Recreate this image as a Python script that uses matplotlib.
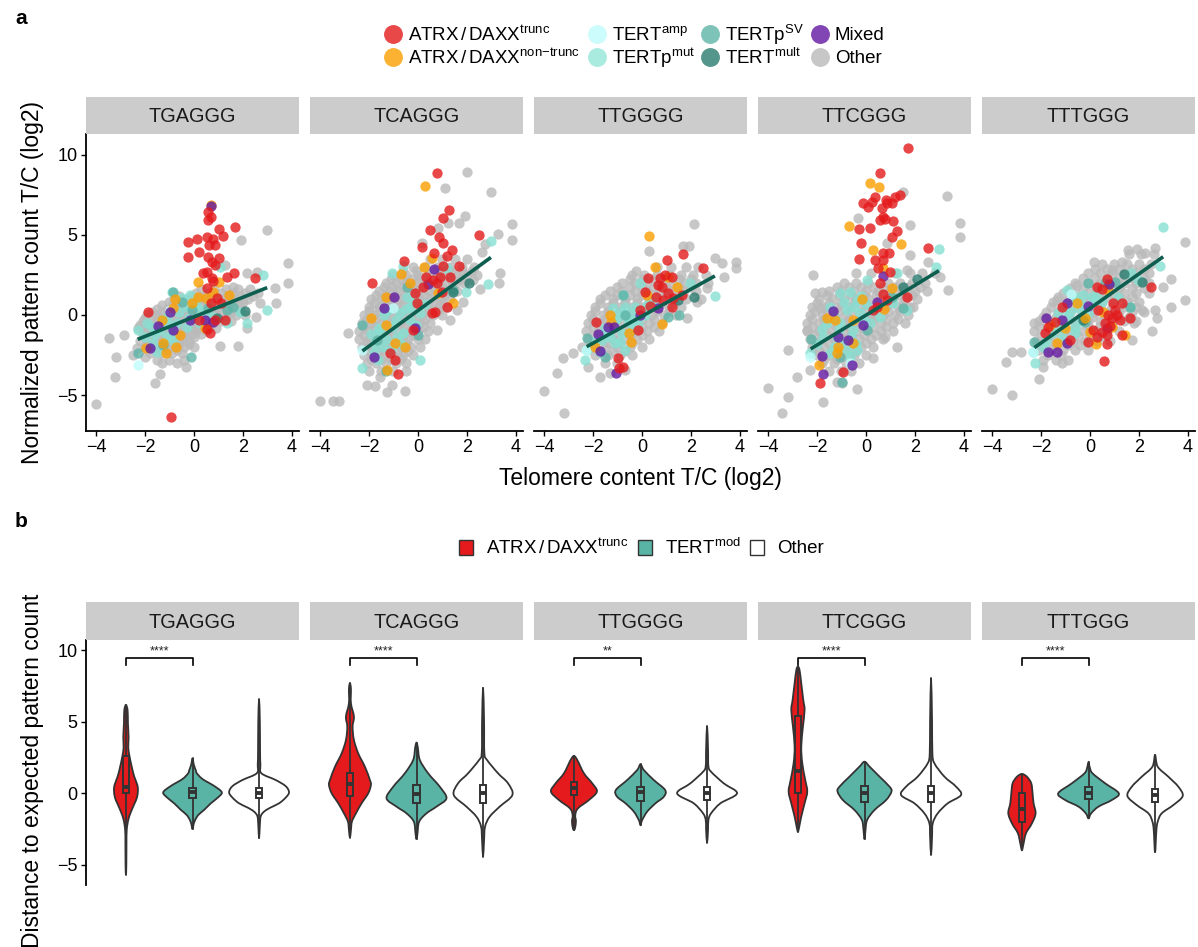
import numpy as np
import matplotlib
matplotlib.use('Agg')
import matplotlib.pyplot as plt
from matplotlib.patches import Rectangle, PathPatch
from matplotlib.path import Path

plt.rcParams['font.family'] = ['Liberation Sans', 'DejaVu Sans']
plt.rcParams['mathtext.fontset'] = 'custom'
plt.rcParams['mathtext.rm'] = 'Liberation Sans'
plt.rcParams['mathtext.it'] = 'Liberation Sans:italic'
plt.rcParams['mathtext.bf'] = 'Liberation Sans:bold'

# ---------------------------------------------------------------- data
patterns = ['TGAGGG', 'TCAGGG', 'TTGGGG', 'TTCGGG', 'TTTGGG']

# dense "Other" cloud, stored as rows: (y, [x values])
other_core = {
    'TGAGGG': [
        (1.6, [0.3, 0.8, 1.3, 1.8, 2.3]),
        (1.4, [0.1, 0.6, 1.1, 1.6, 2.1, 2.6]),
        (1.2, [-0.6, -0.1, 0.4, 0.9, 1.4, 1.9, 2.4]),
        (1.0, [-0.8, -0.3, 0.2, 0.7, 1.2, 1.7, 2.2]),
        (0.8, [-1.0, -0.5, 0.0, 0.5, 1.0, 1.5, 2.0]),
        (0.6, [-1.3, -0.9, -0.5, -0.1, 0.3, 0.7, 1.1, 1.5, 1.9]),
        (0.4, [-1.5, -1.1, -0.7, -0.3, 0.1, 0.5, 0.9, 1.3, 1.7]),
        (0.2, [-1.7, -1.3, -0.9, -0.5, -0.1, 0.3, 0.7, 1.1, 1.5, 1.9]),
        (0.0, [-1.9, -1.5, -1.1, -0.7, -0.3, 0.1, 0.5, 0.9, 1.3, 1.7, 2.1]),
        (-0.2, [-2.0, -1.5, -1.1, -0.7, -0.3, 0.1, 0.5, 0.9, 1.3]),
        (-0.4, [-2.1, -1.7, -1.3, -0.9, -0.5, -0.1, 0.3, 0.7, 1.1, 1.5]),
        (-0.6, [-2.2, -1.7, -1.3, -0.9, -0.5, -0.1, 0.3, 0.7]),
        (-0.8, [-2.3, -1.9, -1.5, -1.1, -0.7, -0.3, 0.1, 0.5, 0.9]),
        (-1.0, [-2.0, -1.5, -1.1, -0.7, -0.3, 0.1, 0.5]),
        (-1.2, [-2.1, -1.7, -1.3, -0.9, -0.5, -0.1, 0.3]),
        (-1.4, [-2.0, -1.6, -1.2, -0.8, -0.4, 0.0]),
        (-1.6, [-2.2, -1.8, -1.4, -1.0, -0.6, -0.2]),
        (-1.8, [-1.9, -1.4, -1.0, -0.6, -0.2]),
        (-2.0, [-2.0, -1.6, -1.2, -0.8, -0.4, 0.0]),
        (-2.2, [-1.6, -1.1, -0.7]),
        (-2.4, [-1.8, -1.3, -0.9, -0.5]),
        (-2.8, [-1.5, -1.0, -0.4]),
    ],
    'TCAGGG': [
        (3.5, [0.5, 1.0, 1.5, 2.0]),
        (3.0, [-0.2, 0.3, 0.8, 1.3, 1.8, 2.3]),
        (2.75, [-0.6, -0.1, 0.6, 1.0, 1.4, 1.8, 2.2]),
        (2.5, [-1.0, -0.5, 0.0, 0.4, 0.8, 1.2, 1.6, 2.0, 2.4]),
        (2.25, [-1.1, -0.7, -0.3, 0.1, 0.5, 0.9, 1.3, 1.7]),
        (2.0, [-1.3, -0.9, -0.5, -0.1, 0.3, 0.7, 1.1, 1.5, 1.9]),
        (1.75, [-1.4, -1.0, -0.6, -0.2, 0.2, 0.6, 1.0, 1.4]),
        (1.5, [-1.6, -1.2, -0.8, -0.4, 0.0, 0.4, 0.8, 1.2, 1.6]),
        (1.25, [-1.7, -1.3, -0.9, -0.5, -0.1, 0.3, 0.7, 1.1]),
        (1.0, [-1.9, -1.5, -1.1, -0.7, -0.3, 0.1, 0.5, 0.9, 1.3]),
        (0.75, [-1.8, -1.4, -1.0, -0.6, -0.2, 0.2, 0.6, 1.0]),
        (0.5, [-2.0, -1.6, -1.2, -0.8, -0.4, 0.0, 0.4, 0.8, 1.2]),
        (0.25, [-2.0, -1.6, -1.2, -0.8, -0.4, 0.0, 0.4, 0.8]),
        (0.0, [-2.2, -1.8, -1.4, -1.0, -0.6, -0.2, 0.2, 0.6, 1.0]),
        (-0.25, [-2.1, -1.7, -1.3, -0.9, -0.5, -0.1, 0.3]),
        (-0.5, [-2.3, -1.9, -1.5, -1.1, -0.7, -0.3, 0.1, 0.5]),
        (-0.75, [-2.2, -1.8, -1.4, -1.0, -0.6, -0.2, 0.2]),
        (-1.0, [-2.4, -2.0, -1.6, -1.2, -0.8, -0.4, 0.0, 0.4]),
        (-1.25, [-2.2, -1.8, -1.4, -1.0, -0.6, -0.2]),
        (-1.5, [-2.4, -2.0, -1.6, -1.2, -0.8, -0.4, 0.0, 0.3]),
        (-1.75, [-2.1, -1.7, -1.3, -0.9, -0.5]),
        (-2.0, [-2.3, -1.9, -1.5, -1.1, -0.7, -0.3, 0.1]),
        (-2.25, [-2.0, -1.6, -1.2, -0.8, -0.4]),
        (-2.5, [-2.2, -1.8, -1.4, -1.0, -0.6, -0.2]),
        (-2.75, [-1.9, -1.5, -1.1, -0.7]),
        (-3.0, [-2.1, -1.7, -1.3, -0.9, -0.5]),
        (-3.5, [-2.0, -1.5, -1.0, -0.5]),
    ],
    'TTGGGG': [
        (3.0, [0.6, 1.2, 1.8, 2.3]),
        (2.5, [-0.4, 0.1, 0.6, 1.1, 1.6, 2.1, 2.6]),
        (2.25, [-0.5, 0.0, 0.5, 1.0, 1.5, 2.0]),
        (2.0, [-0.8, -0.3, 0.2, 0.7, 1.2, 1.7, 2.2, 2.7]),
        (1.75, [-1.0, -0.5, 0.0, 0.5, 1.0, 1.5, 2.0]),
        (1.5, [-1.3, -0.8, -0.3, 0.2, 0.7, 1.2, 1.7, 2.2]),
        (1.25, [-1.5, -1.0, -0.5, 0.0, 0.5, 1.0, 1.5]),
        (1.0, [-1.7, -1.2, -0.7, -0.2, 0.3, 0.8, 1.3, 1.8, 2.4]),
        (0.75, [-1.7, -1.2, -0.7, -0.2, 0.3, 0.8, 1.3]),
        (0.5, [-1.9, -1.4, -0.9, -0.4, 0.1, 0.6, 1.1, 1.6]),
        (0.25, [-1.9, -1.4, -0.9, -0.4, 0.1, 0.6, 1.1]),
        (0.0, [-2.1, -1.6, -1.1, -0.6, -0.1, 0.4, 0.9, 1.4]),
        (-0.25, [-2.0, -1.5, -1.0, -0.5, 0.0, 0.5]),
        (-0.5, [-2.2, -1.7, -1.2, -0.7, -0.2, 0.3, 0.8]),
        (-0.75, [-2.0, -1.5, -1.0, -0.5, 0.0, 0.5]),
        (-1.0, [-2.3, -1.8, -1.3, -0.8, -0.3, 0.2, 0.7]),
        (-1.25, [-2.0, -1.5, -1.0, -0.5, 0.0]),
        (-1.5, [-2.2, -1.7, -1.2, -0.7, -0.2, 0.3]),
        (-1.75, [-1.9, -1.4, -0.9, -0.4]),
        (-2.0, [-2.0, -1.5, -1.0, -0.5, 0.0]),
        (-2.25, [-1.7, -1.2, -0.7]),
        (-2.5, [-1.9, -1.4, -0.9, -0.4]),
        (-3.0, [-1.5, -1.0]),
    ],
    'TTCGGG': [
        (2.6, [-0.4, 0.2, 1.2, 1.8, 2.3, 2.8]),
        (2.0, [-0.9, -0.4, 0.1, 0.9, 1.4, 1.9, 2.4]),
        (1.75, [-1.2, -0.7, -0.2, 0.3, 0.7, 1.2, 1.7, 2.2]),
        (1.5, [-1.5, -1.0, -0.5, 0.0, 0.5, 1.0, 1.5, 2.0, 2.5]),
        (1.25, [-1.6, -1.1, -0.6, -0.1, 0.4, 0.9, 1.4, 1.9]),
        (1.0, [-1.9, -1.4, -0.9, -0.4, 0.1, 0.6, 1.1, 1.6, 2.1]),
        (0.75, [-2.0, -1.5, -1.0, -0.5, 0.0, 0.5, 1.0, 1.5]),
        (0.5, [-2.2, -1.7, -1.2, -0.7, -0.2, 0.3, 0.8, 1.3, 1.8]),
        (0.25, [-2.1, -1.6, -1.1, -0.6, -0.1, 0.4, 0.9, 1.4]),
        (0.0, [-2.3, -1.8, -1.3, -0.8, -0.3, 0.2, 0.7, 1.2, 1.7]),
        (-0.25, [-2.2, -1.7, -1.2, -0.7, -0.2, 0.3, 0.8, 1.3]),
        (-0.5, [-2.4, -1.9, -1.4, -0.9, -0.4, 0.1, 0.6, 1.1, 1.6]),
        (-0.75, [-2.2, -1.7, -1.2, -0.7, -0.2, 0.3, 0.8]),
        (-1.0, [-2.4, -1.9, -1.4, -0.9, -0.4, 0.1, 0.6, 1.1]),
        (-1.25, [-2.1, -1.6, -1.1, -0.6, -0.1, 0.4]),
        (-1.5, [-2.3, -1.8, -1.3, -0.8, -0.3, 0.2, 0.7]),
        (-1.75, [-2.0, -1.5, -1.0, -0.5, 0.0]),
        (-2.0, [-2.2, -1.7, -1.2, -0.7, -0.2, 0.3]),
        (-2.25, [-1.9, -1.4, -0.9, -0.4]),
        (-2.5, [-2.0, -1.5, -1.0, -0.5, 0.0]),
        (-2.75, [-1.7, -1.2, -0.7]),
        (-3.0, [-1.8, -1.3, -0.8, -0.3]),
        (-3.5, [-1.5, -1.0, -0.6]),
    ],
    'TTTGGG': [
        (3.8, [1.6, 2.1, 2.6]),
        (3.2, [0.5, 1.0, 1.5, 2.0, 2.5]),
        (2.9, [0.2, 0.7, 1.2, 1.7, 2.2]),
        (2.6, [-0.1, 0.4, 0.9, 1.4, 1.9, 2.4]),
        (2.3, [-0.3, 0.2, 0.7, 1.2, 1.7, 2.2]),
        (2.0, [-0.6, -0.1, 0.4, 0.9, 1.4, 1.9, 2.4]),
        (1.7, [-0.8, -0.3, 0.2, 0.7, 1.2, 1.7, 2.2]),
        (1.4, [-1.1, -0.6, -0.1, 0.4, 0.9, 1.4, 1.9, 2.4]),
        (1.1, [-1.3, -0.8, -0.3, 0.2, 0.7, 1.2, 1.7]),
        (0.8, [-1.5, -1.0, -0.5, 0.0, 0.5, 1.0, 1.5, 2.0]),
        (0.5, [-1.6, -1.1, -0.6, -0.1, 0.4, 0.9, 1.4, 1.9]),
        (0.2, [-1.8, -1.3, -0.8, -0.3, 0.2, 0.7, 1.2, 1.7, 2.2]),
        (-0.1, [-1.9, -1.4, -0.9, -0.4, 0.1, 0.6, 1.1, 1.6]),
        (-0.4, [-2.1, -1.6, -1.1, -0.6, -0.1, 0.4, 0.9, 1.4, 1.9]),
        (-0.7, [-2.1, -1.6, -1.1, -0.6, -0.1, 0.4, 0.9]),
        (-1.0, [-2.3, -1.8, -1.3, -0.8, -0.3, 0.2, 0.7, 1.2]),
        (-1.3, [-2.0, -1.5, -1.0, -0.5, 0.0, 0.5]),
        (-1.6, [-2.2, -1.7, -1.2, -0.7, -0.2, 0.3, 0.8]),
        (-1.9, [-1.9, -1.4, -0.9, -0.4]),
        (-2.2, [-2.1, -1.6, -1.1, -0.6, -0.1]),
        (-2.5, [-1.7, -1.2]),
        (-2.8, [-1.9, -1.4, -0.9]),
    ],
}

other_extra = {
    'TGAGGG': [(-4.0, -5.57), (-3.47, -1.46), (-3.18, -2.6), (-3.21, -3.86), (-2.86, -1.25),
               (-1.59, -4.27), (-1.39, -3.69), (1.06, -1.94), (1.78, -1.94), (1.92, 4.69),
               (2.99, 5.31), (3.86, 3.27), (3.86, 1.98), (3.31, 1.66), (3.35, 0.73), (2.69, 0.73),
               (2.53, -0.15), (2.15, -0.84), (2.15, 2.6), (2.56, 2.71), (1.61, 1.77), (1.27, 3.12),
               (-2.48, -2.5), (-2.34, -2.08), (-2.0, -2.6), (-1.32, -3.0), (-0.34, -3.23), (-0.71, -3.0)],
    'TCAGGG': [(-4.0, -5.35), (-3.46, -5.35), (-3.21, -5.35), (-2.84, -1.15), (-2.1, -4.4),
               (-1.75, -4.44), (-1.28, -4.79), (-1.07, -4.4), (-0.53, -4.73), (-1.55, -3.9),
               (1.99, 8.96), (1.1, 7.92), (2.98, 7.71), (1.92, 6.19), (1.69, 5.73), (1.24, 5.77),
               (0.83, 5.42), (3.86, 5.69), (3.86, 4.69), (3.28, 5.04), (2.73, 4.44), (2.6, 3.96),
               (3.35, 2.6), (3.32, 1.98), (2.53, 1.6), (2.26, 2.19), (1.85, 0.83), (1.58, 0.31),
               (1.31, -0.31), (0.76, -0.94), (0.15, 4.48)],
    'TTGGGG': [(-4.0, -4.75), (-3.18, -6.15), (-3.46, -3.65), (-3.21, -2.67), (-2.83, -2.4),
               (2.14, 5.69), (0.28, 4.0), (1.69, 4.31), (1.93, 4.31), (2.98, 3.54), (3.28, 3.27),
               (3.86, 3.33), (3.86, 2.96), (3.35, 2.4), (2.64, 1.67), (1.82, -0.21), (2.23, 0.83),
               (-0.26, 2.75), (-2.22, -3.27), (-1.71, -3.85), (-1.31, -3.65), (-0.7, -3.44),
               (-2.46, -1.98)],
    'TTCGGG': [(-3.99, -4.58), (-3.44, -6.1), (-3.17, -5.15), (-2.83, -3.9), (-3.2, -2.19),
               (-1.77, -5.42), (-2.15, 2.5), (-0.38, -4.63), (1.52, 7.71), (-0.31, 6.08),
               (1.8, 5.6), (3.29, 7.44), (3.86, 5.77), (3.86, 4.9), (3.36, 1.56), (3.02, 2.4),
               (1.8, 3.75), (2.54, 3.33), (0.84, 4.48), (1.66, 2.81), (0.78, -1.35), (1.25, -1.98),
               (0.3, -2.71), (-2.08, 1.35), (-1.81, 1.46), (-1.88, 0.42), (-2.42, -0.94),
               (-2.29, -3.44), (-1.2, -4.17), (-0.99, -4.27), (0.3, -0.1), (1.93, 0.52)],
    'TTTGGG': [(-3.99, -4.63), (-3.17, -5.0), (-3.44, -2.96), (-3.2, -2.29), (-2.82, -2.33),
               (-2.08, -4.0), (-1.9, -3.27), (3.88, 4.56), (3.88, 0.94), (3.33, 2.27), (3.33, 0.52),
               (2.99, 1.73), (2.72, -0.21), (2.52, -0.98), (2.65, 0.31), (2.11, 0.31), (1.81, -0.52),
               (1.56, 4.06), (1.93, 4.1), (2.65, 4.21), (2.24, 3.9), (0.16, 3.29), (-0.54, 1.9),
               (-1.36, 0.94), (-2.27, -0.52), (-1.16, -3.02), (1.7, -1.56), (0.89, 2.81), (1.29, 3.33)],
}

pmut = {
    'TGAGGG': [(1.06, 3.02), (2.83, 2.5), (2.97, 0.31), (-0.91, 1.46), (-0.5, 1.04), (-0.16, 1.25),
               (0.25, 0.31), (-0.3, 0.52), (-1.12, -0.1), (-1.39, -0.94), (-1.73, -0.73), (-2.3, -0.94),
               (-0.71, -0.52), (-0.3, -0.73), (-1.12, -1.36), (-0.85, -1.56), (0.25, -0.52), (0.79, -0.1),
               (1.33, -0.52), (1.88, 0.21), (2.15, -0.52), (-1.66, -1.77), (-1.52, -2.29),
               (-1.9, -0.5), (-1.6, -1.2), (-1.0, -0.6), (-0.6, 0.2), (-0.2, -0.2), (0.1, 0.6),
               (0.5, 0.1), (-1.3, -0.3), (-0.9, -1.0), (-2.0, -1.4)],
    'TCAGGG': [(-1.07, 2.65), (-0.63, 3.06), (-1.21, 0.31), (-0.74, 0.1), (-0.33, 0.52), (0.08, 0.1),
               (-1.55, -1.15), (-1.01, -0.73), (-0.6, -1.15), (-1.42, -1.98), (-0.87, -1.35),
               (-0.33, -0.31), (0.08, -2.81), (-1.62, -2.81), (-2.3, -3.29), (2.98, 4.65), (2.87, 1.94),
               (1.95, 1.46), (1.17, 2.92), (-0.46, 1.15), (-1.76, -1.77),
               (-1.8, -2.3), (-1.3, -1.5), (-0.9, -0.3), (-0.5, 0.4), (-0.1, -0.6), (-1.6, -0.8),
               (-1.1, -2.2), (-0.7, -1.8), (-0.2, 0.9), (-1.4, 0.0), (-1.9, -1.2), (0.3, 0.7)],
    'TTGGGG': [(-0.08, 1.98), (-0.76, 1.25), (-1.17, 0.42), (-0.7, 0.52), (-0.29, 0.52), (0.12, 0.0),
               (-0.97, -0.1), (-0.56, -0.31), (-0.15, -0.52), (-1.37, -1.15), (-0.83, -1.15),
               (-0.42, -0.94), (-1.1, -1.77), (-0.7, -2.19), (-2.26, -2.19), (-2.33, -2.81), (3.0, 1.21),
               (1.96, 1.98), (0.39, 0.83), (-1.65, -1.56),
               (-1.9, -1.6), (-1.5, -0.8), (-1.1, -0.4), (-0.8, 0.2), (-0.4, 0.1), (-0.2, -0.2),
               (-1.3, -1.4), (-0.9, -1.7), (-0.5, -0.5), (0.2, 0.6), (-1.7, -2.3)],
    'TTCGGG': [(3.0, 4.1), (2.86, 3.02), (1.25, 2.6), (0.03, 2.19), (-0.65, 1.46), (-1.06, 1.35),
               (-0.38, 0.94), (-1.47, 0.52), (-0.79, 0.31), (-0.25, 0.1), (-1.6, -0.52), (-1.06, -0.52),
               (-0.52, -0.94), (0.16, -0.52), (-1.74, -1.35), (-1.2, -1.35), (-0.79, -2.19), (-1.47, -2.4),
               (-0.65, -2.6), (1.12, 0.73), (1.66, 0.31), (-2.29, -2.4), (-0.38, -2.19), (0.57, -0.1),
               (-2.0, -1.8), (-1.8, -0.9), (-1.3, -0.1), (-0.9, 0.8), (-0.5, 0.5), (-0.1, -0.3),
               (-1.0, -1.7), (-0.6, -1.4), (-1.3, -2.0), (0.3, 0.3), (-0.2, 1.2), (-1.1, -0.9),
               (-0.4, -1.8), (0.0, 0.7)],
    'TTTGGG': [(2.99, 5.52), (2.86, 3.06), (1.67, 2.65), (-0.95, 1.56), (-0.27, 1.25), (0.07, 1.15),
               (-0.75, 0.94), (-0.48, 0.42), (-0.07, 0.1), (-1.29, 0.1), (-0.88, -0.1), (-1.56, -1.15),
               (-1.16, -1.35), (-0.61, -0.73), (-2.24, -2.98), (-2.31, -2.29), (0.48, 0.83), (1.16, 1.15),
               (1.63, 0.52), (-0.61, -1.15), (0.2, 0.94), (1.97, 2.19),
               (-1.8, -1.6), (-1.4, -0.6), (-1.0, 0.4), (-0.6, 1.1), (-0.3, 0.6), (-1.1, -0.8),
               (-0.8, 0.2), (-1.9, -2.0), (-0.4, -0.4), (0.3, 1.4)],
}

psv = {
    'TGAGGG': [(-0.84, 1.46), (-0.5, 0.83), (-0.09, 0.31), (0.59, 0.42), (1.61, 0.52), (-1.25, -1.88),
               (-2.3, -2.4), (-0.14, -2.6), (1.33, 0.31)],
    'TCAGGG': [(-2.3, -0.63), (-1.31, -3.5), (-0.46, 1.77), (1.44, 1.56), (0.01, -1.25), (-1.69, -1.56)],
    'TTGGGG': [(-2.26, -1.46), (-0.7, 0.0), (1.52, 0.0), (1.07, -0.1), (-1.51, -2.6), (-0.76, 1.25)],
    'TTCGGG': [(-2.26, -1.52), (1.52, 0.42), (-1.06, -2.6), (-0.99, -4.17), (1.05, 1.15), (0.03, -0.94)],
    'TTTGGG': [(-0.07, 1.98), (1.02, 2.08), (1.63, 0.52), (-2.27, -1.67), (-0.2, -0.42), (0.61, 1.98)],
}

mult = {
    'TGAGGG': [(2.08, 0.27), (0.95, -0.2)],
    'TCAGGG': [(2.1, 1.98), (1.42, 1.46)],
    'TTGGGG': [(2.12, 1.15), (1.48, 0.94)],
    'TTCGGG': [(2.07, 2.23), (1.52, 1.77)],
    'TTTGGG': [(1.39, 2.56), (2.11, 2.08), (-0.27, -0.31)],
}

amp = {
    'TGAGGG': [(-2.3, -3.13), (-0.98, 0.31)],
    'TCAGGG': [(-1.01, 0.42), (-2.3, -2.19)],
    'TTGGGG': [(-2.3, -2.19)],
    'TTCGGG': [(-2.29, -2.6), (-0.65, -3.02)],
    'TTTGGG': [(-2.31, -2.29), (-0.78, 1.31)],
}

nontrunc = {
    'TGAGGG': [(0.68, 6.9), (0.15, 2.08), (1.02, 2.08), (0.18, 1.14), (0.48, 1.04), (0.76, 1.46),
               (1.44, 1.25), (-0.78, 1.0), (-0.07, 0.73), (-1.32, -0.32), (-0.57, -1.25), (-1.16, -2.4),
               (-1.96, -2.08), (-1.25, -1.77), (-0.73, -1.98), (0.45, -0.84), (-0.85, 0.42)],
    'TCAGGG': [(0.29, 8.06), (0.56, 3.54), (0.24, 3.02), (-0.71, 2.54), (-1.32, 1.15), (-1.93, -0.21),
               (-1.31, -0.63), (-0.94, -1.77), (-0.52, -2.02), (1.42, 0.77), (-0.33, 1.98),
               (-1.28, -3.44), (0.83, 1.35)],
    'TTGGGG': [(0.28, 4.94), (0.53, 3.02), (1.42, 1.77), (0.19, 1.25), (-1.31, 0.0), (-1.27, -0.42),
               (-0.53, -1.15), (-0.45, -1.67), (0.8, -0.56), (1.07, 2.35), (-1.92, -1.98)],
    'TTCGGG': [(0.16, 8.23), (0.55, 7.98), (-0.69, 5.58), (1.42, 4.44), (0.27, 4.06), (0.68, 2.92),
               (1.05, 1.71), (-0.18, 0.98), (0.73, 0.4), (-1.27, -0.31), (-1.6, -0.21), (-0.52, -0.31),
               (-1.13, -1.98), (-0.52, -1.77), (-1.92, -3.13), (-1.2, -2.4)],
    'TTTGGG': [(-0.54, 0.73), (0.54, 0.21), (0.88, -0.73), (1.43, -1.25), (0.23, -1.81), (-1.33, -1.73),
               (-1.63, -0.63), (-1.02, -0.83), (-0.2, -0.21), (0.75, 1.56), (0.0, -1.04)],
}

mixed = {
    'TGAGGG': [(0.68, 6.81), (-0.97, 0.21), (-1.8, -2.08), (-1.46, -0.67), (-0.85, -0.94),
               (-0.17, -0.32), (0.45, -0.32), (0.79, -0.42)],
    'TCAGGG': [(-0.97, 1.15), (-1.37, 0.46), (0.67, 2.85), (0.42, 1.94), (-0.12, -0.83), (-1.8, -2.65)],
    'TTGGGG': [(-1.4, -0.77), (-1.81, -1.21), (-1.73, -2.25), (-1.05, -3.6), (-0.08, 0.0),
               (0.67, 0.42), (-1.13, -0.73)],
    'TTCGGG': [(0.68, 2.46), (-1.36, 0.27), (0.44, 0.83), (-1.13, -1.4), (-0.72, -1.56), (-0.11, -0.63),
               (-1.81, -2.56), (-1.74, -3.69), (-0.59, -3.13)],
    'TTTGGG': [(-1.81, -0.21), (-1.73, -2.29), (-1.36, -2.29), (-0.95, -1.77), (-0.92, 0.73),
               (-0.07, 0.56), (0.71, -0.83), (0.78, 1.92), (-1.16, -0.31)],
}

trunc = {
    'TGAGGG': [(0.59, 6.46), (0.68, 6.14), (0.59, 5.94), (1.02, 5.35), (1.69, 5.52), (-0.26, 4.54),
               (0.14, 4.75), (0.52, 4.9), (0.79, 4.75), (0.63, 4.37), (0.86, 4.37), (1.2, 4.96),
               (-0.23, 3.6), (0.22, 3.92), (0.59, 3.6), (1.03, 3.54), (0.75, 3.29), (0.86, 3.12),
               (0.38, 2.6), (0.52, 2.71), (0.75, 2.29), (0.79, 2.14), (1.65, 2.64), (2.49, 2.33),
               (1.33, 2.4), (0.52, 1.66), (0.68, 0.73), (0.93, 1.04), (1.1, 0.73), (0.86, -0.32),
               (1.27, -0.32), (0.65, -1.11), (0.52, -0.88), (-1.86, 0.21), (-0.94, -6.4), (0.2, -0.32)],
    'TCAGGG': [(0.79, 8.85), (1.25, 6.56), (1.03, 6.04), (0.49, 5.31), (0.87, 4.85), (1.03, 4.48),
               (2.49, 5.0), (0.15, 4.23), (0.65, 3.85), (1.37, 4.06), (1.17, 3.69), (-0.57, 3.4),
               (-1.86, 2.02), (1.01, 3.06), (1.67, 3.06), (0.33, 2.35), (0.63, 2.19), (0.76, 1.98),
               (0.9, 2.4), (1.31, 2.4), (0.22, 1.73), (-0.12, 1.35), (0.97, 1.46), (1.17, 0.52),
               (0.56, 0.1), (0.69, 0.21), (-0.05, 0.73), (-0.19, -0.94), (-0.94, -2.81), (-0.8, -3.71),
               (-1.14, -2.4)],
    'TTGGGG': [(1.69, 3.79), (1.03, 3.44), (2.5, 2.92), (0.26, 2.29), (0.73, 2.29), (0.94, 2.5),
               (1.21, 2.35), (0.67, 1.88), (0.8, 1.73), (0.12, 1.46), (0.57, 1.15), (1.07, 1.35),
               (1.28, 1.04), (0.33, 0.56), (0.87, 0.94), (1.21, 0.48), (1.65, 1.25), (-0.15, -0.94),
               (-1.88, -0.42), (-0.97, -2.71), (-0.93, -3.29), (-0.79, -3.23), (-0.08, 0.31)],
    'TTCGGG': [(1.7, 10.46), (0.57, 8.85), (0.8, 7.19), (1.18, 7.4), (1.39, 7.5), (0.37, 7.35),
               (0.23, 7.08), (-0.11, 6.98), (0.1, 6.77), (0.84, 6.98), (1.05, 6.98), (0.64, 6.67),
               (0.71, 6.15), (0.57, 5.94), (0.78, 5.98), (1.12, 5.88), (-0.29, 5.35), (0.16, 5.42),
               (1.25, 5.27), (1.05, 4.9), (-0.22, 4.52), (0.68, 3.9), (0.95, 3.9), (-0.27, 3.48),
               (0.37, 3.44), (0.71, 3.44), (2.52, 4.17), (0.48, 2.92), (0.98, 2.71), (0.57, 1.98),
               (0.68, 1.31), (1.66, 1.15), (0.3, 0.31), (0.84, 0.94), (-1.88, -4.27), (-0.93, -3.54),
               (0.44, 0.52)],
    'TTTGGG': [(2.49, 1.73), (0.68, 2.25), (0.27, 1.73), (0.48, 1.6), (0.95, 0.73), (1.29, 0.73),
               (1.02, 0.31), (0.75, 0.0), (0.88, -0.21), (1.09, 0.0), (1.22, -0.31), (0.61, -0.52),
               (0.82, -0.69), (1.63, -0.21), (0.48, -1.04), (0.68, -1.25), (0.27, -1.35), (-0.07, -1.67),
               (0.68, -1.81), (1.29, -1.25), (0.59, -2.88), (-1.16, 0.52), (-0.82, -1.56), (-1.84, -1.1),
               (-1.7, -0.73), (-1.43, -0.42), (0.14, -0.94), (0.34, 0.31)],
}

# fitted trend line: (x start, y start, x end, y end)
fit_line = {
    'TGAGGG': (-2.30, -1.52, 2.99, 1.71),
    'TCAGGG': (-2.27, -2.25, 2.98, 3.60),
    'TTGGGG': (-2.26, -1.98, 2.98, 2.44),
    'TTCGGG': (-2.26, -2.12, 2.98, 2.77),
    'TTTGGG': (-2.27, -2.04, 2.99, 3.64),
}

# violin outlines as (y, half width) knots, top to bottom
violin_groups = ['trunc', 'mod', 'other']
violins = {
    'TGAGGG': {
        'trunc': [(6.18, 0), (5.8, 0.025), (4.9, 0.03), (3.9, 0.04), (3.2, 0.035), (2.57, 0.055),
                  (1.8, 0.09), (1.17, 0.125), (0.6, 0.17), (0.2, 0.18), (-0.3, 0.165), (-0.7, 0.13),
                  (-1.3, 0.075), (-1.86, 0.035), (-2.56, 0.012), (-3.5, 0.008), (-5.0, 0.006), (-5.71, 0)],
        'mod': [(2.45, 0), (2.0, 0.02), (1.6, 0.05), (1.4, 0.065), (1.0, 0.15), (0.5, 0.33), (0.07, 0.44),
                (-0.3, 0.38), (-0.7, 0.275), (-1.16, 0.175), (-1.5, 0.09), (-1.86, 0.04), (-2.2, 0.015),
                (-2.52, 0)],
        'other': [(6.57, 0), (5.0, 0.012), (3.0, 0.015), (2.0, 0.02), (1.4, 0.035), (0.93, 0.25),
                  (0.5, 0.4), (0.07, 0.45), (-0.3, 0.4), (-0.7, 0.3), (-1.0, 0.17), (-1.28, 0.075),
                  (-1.6, 0.025), (-2.2, 0.012), (-3.15, 0)],
    },
    'TCAGGG': {
        'trunc': [(7.69, 0), (7.3, 0.015), (6.3, 0.015), (5.36, 0.06), (4.66, 0.04), (3.73, 0.06),
                  (2.79, 0.125), (1.86, 0.225), (0.93, 0.3), (0.58, 0.315), (0.0, 0.275), (-0.7, 0.175),
                  (-1.4, 0.09), (-1.98, 0.03), (-2.57, 0.015), (-3.1, 0)],
        'mod': [(3.54, 0), (3.2, 0.02), (2.33, 0.05), (1.4, 0.175), (0.46, 0.35), (-0.35, 0.45),
                (-0.93, 0.3), (-1.4, 0.15), (-1.98, 0.04), (-2.8, 0.015), (-3.22, 0)],
        'other': [(7.39, 0), (5.0, 0.015), (2.8, 0.02), (2.33, 0.06), (1.4, 0.225), (0.7, 0.375),
                  (-0.12, 0.44), (-0.93, 0.25), (-1.63, 0.1), (-2.33, 0.03), (-3.27, 0.015), (-4.43, 0)],
    },
    'TTGGGG': {
        'trunc': [(2.61, 0), (2.33, 0.05), (1.4, 0.15), (0.7, 0.275), (0.12, 0.345), (-0.47, 0.225),
                  (-1.05, 0.06), (-1.52, 0.02), (-1.98, 0.03), (-2.45, 0.015), (-2.57, 0)],
        'mod': [(2.03, 0), (1.63, 0.05), (0.93, 0.2), (0.23, 0.37), (-0.24, 0.35), (-0.7, 0.225),
                (-1.28, 0.1), (-1.87, 0.025), (-2.22, 0)],
        'other': [(4.71, 0), (3.0, 0.015), (1.9, 0.02), (1.51, 0.06), (0.7, 0.25), (0.0, 0.45),
                  (-0.7, 0.2), (-1.4, 0.06), (-1.87, 0.02), (-2.5, 0.015), (-3.45, 0)],
    },
    'TTCGGG': {
        'trunc': [(8.86, 0), (8.6, 0.025), (7.69, 0.05), (6.53, 0.08), (5.83, 0.1), (4.66, 0.075),
                  (3.26, 0.05), (2.1, 0.065), (0.93, 0.11), (0.12, 0.14), (-0.7, 0.1), (-1.63, 0.05),
                  (-2.33, 0.02), (-2.68, 0)],
        'mod': [(2.21, 0), (1.87, 0.075), (1.17, 0.225), (0.47, 0.375), (0.12, 0.405), (-0.47, 0.325),
                (-1.17, 0.15), (-1.86, 0.04), (-2.56, 0.015), (-3.22, 0)],
        'other': [(8.04, 0), (5.0, 0.015), (2.8, 0.02), (2.1, 0.05), (1.17, 0.2), (0.47, 0.375),
                  (-0.12, 0.45), (-0.7, 0.25), (-1.4, 0.1), (-2.1, 0.025), (-3.0, 0.015), (-4.31, 0)],
    },
    'TTTGGG': {
        'trunc': [(1.35, 0), (1.16, 0.075), (0.7, 0.14), (0.0, 0.16), (-0.7, 0.175), (-1.4, 0.205),
                  (-2.1, 0.15), (-2.8, 0.06), (-3.5, 0.025), (-3.97, 0)],
        'mod': [(2.17, 0), (1.8, 0.02), (1.4, 0.06), (0.7, 0.25), (0.0, 0.455), (-0.47, 0.35),
                (-0.93, 0.15), (-1.4, 0.04), (-1.75, 0)],
        'other': [(2.68, 0), (1.86, 0.04), (1.16, 0.2), (0.46, 0.35), (-0.19, 0.415), (-0.82, 0.275),
                  (-1.4, 0.1), (-1.98, 0.04), (-2.57, 0.02), (-4.13, 0)],
    },
}

# box summaries: (lower quartile, median, upper quartile)
boxes = {
    'TGAGGG': {'trunc': (0.0, 0.47, 2.63), 'mod': (-0.35, 0.07, 0.35), 'other': (-0.33, 0.05, 0.38)},
    'TCAGGG': {'trunc': (-0.19, 0.63, 1.44), 'mod': (-0.66, -0.07, 0.58), 'other': (-0.66, 0.0, 0.58)},
    'TTGGGG': {'trunc': (-0.12, 0.35, 0.81), 'mod': (-0.54, 0.12, 0.46), 'other': (-0.47, 0.0, 0.42)},
    'TTCGGG': {'trunc': (0.05, 1.59, 5.41), 'mod': (-0.58, 0.05, 0.51), 'other': (-0.58, 0.0, 0.51)},
    'TTTGGG': {'trunc': (-1.98, -1.12, 0.0), 'mod': (-0.42, 0.0, 0.42), 'other': (-0.59, -0.14, 0.28)},
}

signif = ['****', '****', '**', '****', '****']

# ---------------------------------------------------------------- styles
scatter_groups = [
    ('other', '#BABABA'), ('pmut', '#86E0D2'), ('amp', '#C0FDFC'), ('psv', '#5DB4A7'),
    ('mult', '#2A7C6F'), ('nontrunc', '#FB9F00'), ('mixed', '#6318A1'), ('trunc', '#E41A1C'),
]
legend_colors = {'pmut': '#95E6D9'}
violin_fill = {'trunc': '#E41A1C', 'mod': '#5AB4A6', 'other': '#FFFFFF'}
edge = '#333333'
fit_color = '#0E5E50'

W, H = 1198, 947
fig = plt.figure(figsize=(W / 100, H / 100), dpi=100)

panel_left = [86, 310, 534, 758, 982]
panel_w = 213
a_top, a_bot = 134, 430.7
b_top, b_bot = 640, 885


def fig_rect(x0, top, w, bottom):
    return [x0 / W, 1 - bottom / H, w / W, (bottom - top) / H]


def style_axis(ax, show_y):
    for s in ['top', 'right']:
        ax.spines[s].set_visible(False)
    ax.spines['left'].set_visible(show_y)
    ax.spines['left'].set_linewidth(1.3)
    ax.spines['bottom'].set_linewidth(1.3)
    ax.tick_params(direction='out', length=3.5, width=1.0, labelsize=13, pad=2.5, colors='black')
    if not show_y:
        ax.tick_params(axis='y', left=False, labelleft=False)


def smooth_outline(points):
    pts = np.asarray(points, dtype=float)
    n = len(pts)
    verts = [pts[0]]
    codes = [Path.MOVETO]
    for i in range(n):
        p0, p1, p2, p3 = pts[(i - 1) % n], pts[i], pts[(i + 1) % n], pts[(i + 2) % n]
        verts += [p1 + (p2 - p0) / 6.0, p2 - (p3 - p1) / 6.0, p2]
        codes += [Path.CURVE4] * 3
    verts.append(pts[0])
    codes.append(Path.CLOSEPOLY)
    return Path(verts, codes)


data_sets = {'other': None, 'pmut': pmut, 'amp': amp, 'psv': psv, 'mult': mult,
             'nontrunc': nontrunc, 'mixed': mixed, 'trunc': trunc}

# ---------------------------------------------------------------- panel a
for i, pat in enumerate(patterns):
    ax = fig.add_axes(fig_rect(panel_left[i], a_top, panel_w, a_bot))
    for key, col in scatter_groups:
        if key == 'other':
            pts = [(x, y) for y, xs in other_core[pat] for x in xs] + other_extra[pat]
        else:
            pts = data_sets[key][pat]
        xs = [p[0] for p in pts]
        ys = [p[1] for p in pts]
        ax.scatter(xs, ys, s=55, c=col, alpha=0.8, linewidths=0, zorder=2)
    x0, y0, x1, y1 = fit_line[pat]
    ax.plot([x0, x1], [y0, y1], color=fit_color, lw=2.6, solid_capstyle='butt', zorder=3)
    ax.set_xlim(-4.41, 4.29)
    ax.set_ylim(-7.23, 11.31)
    ax.set_xticks([-4, -2, 0, 2, 4])
    ax.set_xticklabels(['\u22124', '\u22122', '0', '2', '4'])
    ax.set_yticks([-5, 0, 5, 10])
    ax.set_yticklabels(['\u22125', '0', '5', '10'])
    style_axis(ax, i == 0)
    ax.patch.set_alpha(0)

# ---------------------------------------------------------------- panel b
for i, pat in enumerate(patterns):
    ax = fig.add_axes(fig_rect(panel_left[i], b_top, panel_w, b_bot))
    for j, g in enumerate(violin_groups):
        cx = j + 1
        knots = violins[pat][g]
        right = [(cx + w, y) for y, w in knots]
        left = [(cx - w, y) for y, w in reversed(knots[1:-1])]
        path = smooth_outline(right + left)
        ax.add_patch(PathPatch(path, facecolor=violin_fill[g], edgecolor=edge, lw=1.3, zorder=2))
        ytop, ybot = knots[0][0], knots[-1][0]
        ax.plot([cx, cx], [ybot, ytop], color=edge, lw=1.3, zorder=3, solid_capstyle='round')
        q1, med, q3 = boxes[pat][g]
        bw = 0.1
        ax.add_patch(Rectangle((cx - bw / 2, q1), bw, q3 - q1, facecolor=violin_fill[g],
                               edgecolor=edge, lw=1.4, zorder=4))
        ax.plot([cx - bw / 2, cx + bw / 2], [med, med], color=edge, lw=2.8, zorder=5,
                solid_capstyle='butt')
    ax.plot([1, 1, 2, 2], [8.97, 9.44, 9.44, 8.97], color='black', lw=1.2, zorder=3)
    ax.text(1.5, 9.95, signif[i], ha='center', va='center', fontsize=9, color='#222222')
    ax.set_xlim(0.4, 3.6)
    ax.set_ylim(-6.41, 10.72)
    ax.set_yticks([-5, 0, 5, 10])
    ax.set_yticklabels(['\u22125', '0', '5', '10'])
    style_axis(ax, i == 0)
    ax.spines['bottom'].set_visible(False)
    ax.tick_params(axis='x', bottom=False, labelbottom=False)
    ax.patch.set_alpha(0)

# ---------------------------------------------------------------- strips, labels, legends
ov = fig.add_axes([0, 0, 1, 1])
ov.set_xlim(0, W)
ov.set_ylim(H, 0)
ov.axis('off')
ov.patch.set_alpha(0)

for i, pat in enumerate(patterns):
    for top, bot in [(97, a_top), (602, b_top)]:
        ov.add_patch(Rectangle((panel_left[i], top), panel_w, bot - top, facecolor='#CCCCCC',
                               edgecolor='none'))
        ov.text(panel_left[i] + panel_w / 2, (top + bot) / 2 + 1, pat, ha='center', va='center',
                fontsize=14.3, color='#1A1A1A')

ov.text(15, 18, 'a', fontsize=15, fontweight='bold', ha='left', va='center')
ov.text(15, 521, 'b', fontsize=15, fontweight='bold', ha='left', va='center')

ov.text(640.5, 478, 'Telomere content T/C (log2)', ha='center', va='center', fontsize=16.5)
ov.text(33, 282, 'Normalized pattern count T/C (log2)', ha='center', va='center',
        rotation=90, fontsize=16.5)
ov.text(33, 771, 'Distance to expected pattern count', ha='center', va='center',
        rotation=90, fontsize=16.5)

legend_a = [
    (393, 34, '#E41A1C', r'$\mathregular{ATRX\,/\,DAXX^{trunc}}$'),
    (393, 57, '#FB9F00', r'$\mathregular{ATRX\,/\,DAXX^{non{-}trunc}}$'),
    (597, 34, '#C0FDFC', r'$\mathregular{TERT^{amp}}$'),
    (597, 57, legend_colors['pmut'], r'$\mathregular{TERTp^{mut}}$'),
    (710, 34, '#5DB4A7', r'$\mathregular{TERTp^{SV}}$'),
    (710, 57, '#2A7C6F', r'$\mathregular{TERT^{mult}}$'),
    (820, 34, '#6318A1', 'Mixed'),
    (820, 57, '#BABABA', 'Other'),
]
for x, y, col, lab in legend_a:
    ov.scatter([x], [y], s=185, c=col, alpha=0.8, linewidths=0)
    ov.text(x + 15, y + 1, lab, ha='left', va='center', fontsize=13.5)

legend_b = [
    (466, '#E41A1C', r'$\mathregular{ATRX\,/\,DAXX^{trunc}}$'),
    (645, '#5AB4A6', r'$\mathregular{TERT^{mod}}$'),
    (757, '#FFFFFF', 'Other'),
]
for x, col, lab in legend_b:
    ov.add_patch(Rectangle((x - 7, 540), 14, 15, facecolor=col, edgecolor=edge, lw=1.0))
    ov.text(x + 20, 548, lab, ha='left', va='center', fontsize=13.5)

fig.savefig('out.png', dpi=100)
